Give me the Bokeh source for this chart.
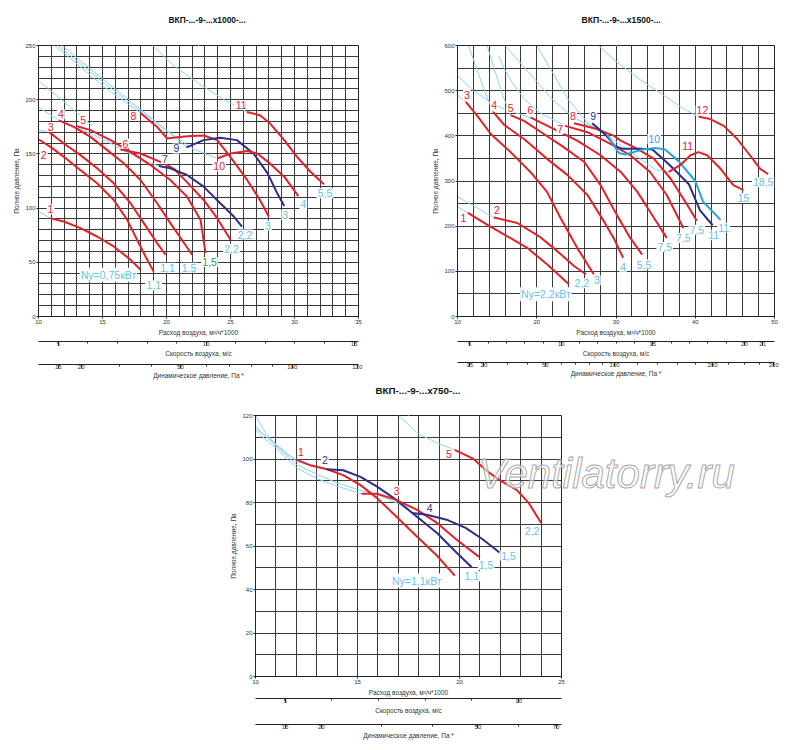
import math
from bokeh.plotting import figure
from bokeh.models import (Range1d, LinearAxis, FixedTicker, SingleIntervalTicker,
                          ColumnDataSource, Spacer, Div, Title)
from bokeh.layouts import column, row
from bokeh.core.properties import value
from bokeh.embed import file_html
from bokeh.resources import INLINE

RED = "#e0232b"; NAVY = "#2c2f86"; LBLUE = "#92d2ee"; CYAN = "#27a6de"
GREEN = "#1f9e3c"; KWC = "#69c0e8"; GRID = "#3a3a3a"
FONT = "Liberation Sans"
NFONT = "Liberation Sans Narrow, Liberation Sans, sans-serif"

# ---------------- chart A : x1000 ----------------
A_Q = [
    [10.94, 11.98, 13.28, 14.58, 15.88, 17.19, 17.97],
    [10.02, 10.94, 11.98, 13.28, 14.58, 15.88, 16.93, 17.7, 18.36, 19.0],
    [10.8, 11.98, 13.28, 14.58, 15.88, 17.19, 18.23, 19.27, 19.92],
    [11.59, 12.76, 14.06, 15.37, 16.66, 17.97, 19.27, 20.3, 21.2, 22.0],
    [13.02, 14.06, 15.63, 17.19, 18.75, 20.3, 21.6, 22.66, 23.05],
    [16.4, 17.97, 19.8, 20.6, 21.6, 22.9, 23.96, 25.0],
    [19.4, 20.3, 21.6, 22.9, 24.2, 25.26, 25.9],
    [17.97, 19.27, 20.05, 21.0, 21.9, 22.9, 23.96, 25.0, 26.3, 27.3, 28.0],
    [21.56, 22.9, 24.2, 25.5, 26.8, 27.9, 28.65, 29.2],
    [23.96, 25.0, 26.3, 27.1, 28.1, 29.2, 30.3],
    [26.3, 27.3, 28.1, 29.2, 30.2, 31.25, 32.3],
]
A_P = [
    [90.7, 87.6, 81.5, 73.8, 64.6, 52.4, 43.2],
    [163.3, 156.5, 147.3, 135, 122.9, 107.5, 89.1, 70.8, 55.4, 41.6],
    [170.3, 159.6, 148.9, 136.7, 122.9, 104.5, 86.1, 67.7, 57],
    [181, 174.9, 165.7, 153.5, 141.3, 125.9, 104.5, 86.1, 70.8, 57],
    [175.5, 171.9, 162.7, 151.9, 139.7, 125.9, 110.6, 89.1, 58.5],
    [154, 150.4, 141.3, 136, 124, 107.5, 90.7, 70.8],
    [138.8, 136.7, 130.5, 119.8, 104.5, 92.2, 83],
    [187.8, 174.9, 164.2, 165.5, 166.6, 167, 162.7, 147, 126, 107.5, 92],
    [156, 162.7, 165, 162.7, 150.4, 132, 113.7, 102],
    [145.8, 150.4, 152.6, 150.4, 141, 129, 111],
    [188.7, 185.6, 178, 162.7, 147.3, 133.5, 122],
]
A_ID = ["1", "2", "3", "4", "5", "6", "7", "8", "9", "10", "11"]
A_KW = ["Ny=0,75кВт", "1,1", "1,1", "1,5", "1,5", "2,2", "2,2", "3", "3", "4", "5,5"]
A_SYS_Q = [
    [10, 10.94], [10, 10.8],
    [10, 11.59, 13.0, 14.6, 16.4, 18.0, 19.4],
    [10, 11.4, 12.6, 13.5, 14.2],
    [11.15, 13, 15, 17, 17.97],
    [11.4, 13.5, 15.5, 17.5, 19.7, 21.0, 21.56],
    [11.7, 14, 16, 18, 20, 22, 23.96],
    [18.83, 20.5, 22.5, 24.5, 26.3],
]
A_SYS_P = [
    [97, 90.7], [172, 170.3],
    [193, 181, 174, 166, 155, 145, 138.8],
    [217.5, 204, 192, 183, 176],
    [251, 233, 213, 196, 187.8],
    [251, 231, 212, 194, 174, 162, 156],
    [251, 229, 210, 191, 172, 155, 145.8],
    [251, 232, 215, 200, 188.7],
]
A_VEL_MAJ = [5, 10, 15]
A_VEL_MIN = [6, 7, 8, 9, 11, 12, 13, 14]
A_PD_AT = [15, 20, 50, 100, 137]
A_PD_LAB = ["15", "20", "50", "100", "120"]
A_PD_MIN = [30, 40, 60, 70, 80, 90]

# ---------------- chart B : x1500 ----------------
B_Q = [
    [11.26, 13.78, 16.3, 18.8, 21.3, 24.06],
    [14.6, 17.55, 20.3, 22.6, 24.7, 26.2],
    [11.05, 12.5, 14.2, 16.7, 19.2, 21.3, 23, 25.1, 27.2],
    [14.5, 15.9, 18.4, 21.3, 23.9, 26.4, 28.5, 29.7, 30.9],
    [16.7, 18.4, 20.9, 23.4, 26, 28.05, 30.1, 31.8, 33.3],
    [19.2, 22.2, 25.1, 28.05, 30.6, 32.7, 34.8, 36.4],
    [23.6, 26.4, 29.3, 31.8, 34.3, 36.4, 38.5],
    [24.7, 27.6, 29.7, 30.6, 32.7, 34.8, 36.9, 39, 40.2],
    [27.0, 28.7, 29.9, 30.8, 33.3, 34.6, 36.7, 39.2, 40.6, 42.2],
    [28.9, 30.35, 31.2, 33.3, 35, 36.2, 37.9, 40, 41, 43.2],
    [36.65, 38.1, 39.4, 40.4, 41.5, 43.2, 44.8, 46.1],
    [40.4, 41.9, 43.6, 45.3, 46.9, 48.2, 49.2],
]
B_P = [
    [230, 203, 177.6, 152, 115.5, 71.6],
    [219, 207, 177.6, 144.7, 111.8, 93.5],
    [475, 444, 404, 364, 320, 276, 218, 152, 93.5],
    [453, 424, 393, 349, 313, 269, 210, 174, 130],
    [446, 433, 404, 375, 342, 291, 225, 174, 137],
    [440.7, 415, 389.5, 357, 320, 276, 218, 174],
    [422, 408, 382, 357, 320, 269, 196],
    [428, 415, 400.5, 389.5, 371, 349, 305, 247, 212],
    [427.7, 402, 376.7, 371.6, 371.6, 369.5, 336.6, 292.8, 235, 202],
    [402, 362, 358.5, 369.5, 373, 369.5, 344, 300, 254, 214],
    [320, 335, 357, 364, 357, 327, 291, 280],
    [443, 437, 422, 393, 357, 327, 315],
]
B_ID = ["1", "2", "3", "4", "5", "6", "7", "8", "9", "10", "11", "12"]
B_KW = ["Ny=2,2кВт", "2,2", "3", "4", "5,5", "7,5", "7,5", "7,5", "11", "11", "15", "18,5"]
B_SYS_Q = [
    [10, 11.26], [10, 12, 14.6], [10, 11.05],
    [10, 12, 14, 16, 19.2],
    [11.4, 12.5, 13.5, 14.5],
    [13.75, 14.7, 15.7, 16.7],
    [15.2, 16, 17, 18.5, 20.5, 23.6],
    [16.05, 18, 20, 22, 24.7, 27, 29, 31, 33, 35, 36.65],
    [20.05, 22, 24, 26.5, 28.9],
    [27.8, 30, 33, 36, 38.5, 40.4],
]
B_SYS_P = [
    [243, 230], [265, 245, 219], [490, 475],
    [533, 500, 476, 458, 440.7],
    [599, 545, 495, 453],
    [599, 545, 490, 446],
    [577, 545, 515, 480, 450, 422],
    [599, 560, 520, 480, 440, 420, 400, 375, 350, 325, 320],
    [599, 540, 480, 427.7, 402],
    [599, 565, 525, 490, 460, 443],
]
B_VEL_MAJ = [5, 10, 15, 20, 21]
B_VEL_MIN = [6, 7, 8, 9, 11, 12, 13, 14, 16, 17, 18, 19]
B_PD_AT = [15, 20, 50, 100, 200, 280]
B_PD_LAB = ["15", "20", "50", "100", "200", "280"]
B_PD_MIN = [30, 40, 60, 70, 80, 90, 120, 140, 160, 180, 220, 240, 260]

# ---------------- chart C : x750 ----------------
C_Q = [
    [11.98, 12.7, 13.5, 14.3, 15.15, 15.96, 16.9, 17.9, 18.9, 19.77],
    [13.5, 14.3, 15.15, 15.96, 16.9, 17.9, 18.9, 19.85, 20.6],
    [15.2, 15.96, 16.9, 17.9, 18.9, 19.85, 20.96],
    [17.66, 18.4, 19.37, 20.3, 21.15, 21.96],
    [19.77, 20.66, 21.3, 21.96, 22.8, 23.4, 24.0],
]
C_P = [
    [99.8, 97.1, 95.3, 92.6, 88, 82, 73.6, 64.5, 55.5, 46.4],
    [95.3, 94.8, 91.8, 87.3, 81.2, 73.6, 66, 57, 50.2],
    [84, 84, 81.2, 76.7, 70.6, 63, 55],
    [75.2, 74.4, 72.1, 68.3, 63, 57],
    [104.2, 100.2, 94.8, 90.3, 85.8, 79.7, 70.6],
]
C_ID = ["1", "2", "3", "4", "5"]
C_KW = ["Ny=1,1кВт", "1,1", "1,5", "1,5", "2,2"]
C_SYS_Q = [
    [10, 10.5, 11, 11.5, 11.98],
    [10, 11, 12, 12.8, 13.5],
    [10, 11, 12, 13, 14, 15.2],
    [10, 11, 12, 13, 14, 15, 16, 17, 17.66],
    [17, 18, 19, 19.77],
]
C_SYS_P = [
    [120, 112, 106.5, 102.5, 99.8],
    [114, 107, 99, 96.5, 95.3],
    [113, 105, 96, 91, 87.5, 84],
    [115, 106, 97.5, 93, 89, 86, 83.5, 79.5, 75.2],
    [120, 111.5, 107, 104.2],
]
C_VEL_MAJ = [5, 10]
C_VEL_MIN = [6, 7, 8, 9]
C_PD_AT = [15, 20, 50, 70]
C_PD_LAB = ["15", "20", "50", "70"]
C_PD_MIN = [30, 40, 60]

WATERMARK = "Ventilatorry.ru"

# ---------------- styles (colours, label offsets in px) ----------------
A_COL = [RED] * 6 + [NAVY, RED, NAVY, RED, RED]
A_KWCOL = [KWC] * 4 + [GREEN] + [KWC] * 6
A_ID_OFF = [(0, 9), (5, -16), (2, 5), (2, 6), (6, 6), (5, 6), (6, 7), (-7, -3), (-10, -1), (2, -8), (-6, 7)]
A_KW_OFF = [(-32, -5), (0, -14), (2, -13), (-3, -13), (4, -9), (1, -9), (3, -8), (-1, -9), (1, -9), (5, -8), (1, -9)]

B_COL = [RED] * 8 + [NAVY, CYAN, RED, RED]
B_KWCOL = [KWC] * 12
B_ID_OFF = [(-4, -5), (3, 8), (1, 7), (1, 7), (0, 7), (0, 7), (-5, -3), (-1, 7), (1, 7), (47, -4), (19, 26), (4, 6)]
B_KW_OFF = [(-23, -10), (-4, -9), (3, -6), (0, -9), (2, -10), (-2, -9), (0, -10), (0, -9), (1, -10), (3, -8), (0, -8), (-5, -8)]

C_COL = [RED, NAVY, RED, NAVY, RED]
C_KWCOL = [KWC] * 5
C_ID_OFF = [(5, 7), (-2, 9), (35, 3), (18, 5), (-6, -4)]
C_KW_OFF = [(-38, -5), (0, -9), (7, -8), (9, -3), (-9, -8)]


def spacer_axis(h, mid):
    # an invisible axis panel (white tick on white border) used only to add space
    return LinearAxis(ticker=FixedTicker(ticks=[mid]), axis_line_color=None,
                      major_tick_out=h, major_tick_in=0, minor_tick_out=0,
                      major_tick_line_color="white", minor_tick_line_color=None,
                      major_label_overrides={mid: ""},
                      major_label_text_font_size="0px", major_label_standoff=0)


def style_axis(ax):
    ax.major_label_text_font_size = "6px"
    ax.major_label_text_font = FONT
    ax.major_label_text_color = "#333333"
    ax.axis_label_text_font_size = "6.5px"
    ax.axis_label_text_font = FONT
    ax.axis_label_text_font_style = "normal"
    ax.axis_label_text_color = "#333333"
    ax.axis_line_color = "#222222"
    ax.major_tick_line_color = "#222222"
    ax.minor_tick_line_color = "#222222"


def make_chart(title, tsize, toff, tgap, xr, yr, xint, xminor, yint, yminor,
               width, height, bl, br, bt, bb, gap1, gap2,
               qs, ps, cols, ids, id_off, kws, kwcols, kw_off, sq, sp,
               K, vmaj, vmin, pd_at, pd_lab, pd_min):
    p = figure(width=width, height=height, x_range=Range1d(*xr), y_range=Range1d(*yr),
               output_backend="svg", toolbar_location=None,
               min_border_left=bl, min_border_right=br, min_border_top=bt, min_border_bottom=bb)
    p.outline_line_color = "#222222"
    p.background_fill_color = "white"
    p.border_fill_color = "white"
    mid = (xr[0] + xr[1]) / 2.0

    # main axes (configured before any extra axis is added)
    xax = p.below[0]
    yax = p.left[0]
    xt = SingleIntervalTicker(interval=xint, num_minor_ticks=xminor)
    yt = SingleIntervalTicker(interval=yint, num_minor_ticks=yminor)
    xax.ticker = xt
    yax.ticker = yt
    p.xgrid[0].ticker = xt
    p.ygrid[0].ticker = yt
    for g in (p.xgrid[0], p.ygrid[0]):
        g.grid_line_color = GRID
        g.grid_line_width = 1
        g.minor_grid_line_color = GRID
        g.minor_grid_line_width = 1
    for ax in (xax, yax):
        style_axis(ax)
        ax.major_tick_out = 2
        ax.major_tick_in = 0
        ax.minor_tick_out = 0
        ax.minor_tick_in = 0
        ax.major_label_standoff = 1
        ax.axis_label_standoff = 2
    xax.axis_label = "Расход воздуха, м³/ч*1000"
    yax.axis_label = "Полное давление, Па"

    # title, lifted above the frame by an invisible spacer panel
    p.title.text = ""
    p.title.standoff = 0
    p.add_layout(spacer_axis(tgap, mid), "above")
    p.add_layout(Title(text=title, align="left", offset=toff, standoff=0,
                       text_font=FONT, text_font_size=tsize, text_font_style="bold",
                       text_color="#111111"), "above")

    # secondary axes: air velocity (linear in flow) and dynamic pressure (0.6*v^2)
    p.extra_x_ranges = {"vel": Range1d(xr[0] / K, xr[1] / K)}
    vax = LinearAxis(x_range_name="vel", ticker=FixedTicker(ticks=vmaj, minor_ticks=vmin),
                     axis_label="Скорость воздуха, м/с")
    style_axis(vax)
    vax.major_tick_out = 4; vax.major_tick_in = 0
    vax.minor_tick_out = 2; vax.minor_tick_in = 0
    vax.major_label_standoff = -4
    vax.major_label_text_align = "left"
    vax.axis_label_standoff = 1
    pd_v = [round(math.sqrt(v / 0.6), 6) for v in pd_at]
    pd_vmin = [round(math.sqrt(v / 0.6), 6) for v in pd_min]
    dax = LinearAxis(x_range_name="vel", ticker=FixedTicker(ticks=pd_v, minor_ticks=pd_vmin),
                     axis_label="Динамическое давление, Па *",
                     major_label_overrides={t: l for t, l in zip(pd_v, pd_lab)})
    style_axis(dax)
    dax.major_tick_out = 4; dax.major_tick_in = 0
    dax.minor_tick_out = 2; dax.minor_tick_in = 0
    dax.major_label_standoff = -4
    dax.axis_label_standoff = 0
    if gap1 > 0:
        p.add_layout(spacer_axis(gap1, mid), "below")
    p.add_layout(vax, "below")
    if gap2 > 0:
        p.add_layout(spacer_axis(gap2, mid), "below")
    p.add_layout(dax, "below")

    # light blue lines
    p.multi_line(xs=sq, ys=sp, line_color=LBLUE, line_width=1)
    # fan curves
    for q, pr, c in zip(qs, ps, cols):
        p.line(q, pr, line_color=c, line_width=2)

    # labels
    lx = [q[0] for q in qs] + [q[-1] for q in qs]
    ly = [pr[0] for pr in ps] + [pr[-1] for pr in ps]
    lt = list(ids) + list(kws)
    lc = list(cols[:len(ids)]) + list(kwcols)
    offs = list(id_off) + list(kw_off)
    src = ColumnDataSource(dict(x=lx, y=ly, text=lt, color=lc,
                                dx=[o[0] for o in offs], dy=[-o[1] for o in offs]))
    p.text(x="x", y="y", text="text", source=src, text_color="color",
           x_offset="dx", y_offset="dy", text_align="center", text_baseline="middle",
           text_font=value(NFONT), text_font_size=value("10.5px"),
           background_fill_color="white", padding=1)
    return p


p1 = make_chart("ВКП-...-9-...x1000-...", "8.4px", 130, 21, (10, 35), (0, 250), 5, 5, 50, 5,
                427, 381, 38, 69, 45, 64, 3, 5,
                A_Q, A_P, A_COL, A_ID, A_ID_OFF, A_KW, A_KWCOL, A_KW_OFF, A_SYS_Q, A_SYS_P,
                2.31, A_VEL_MAJ, A_VEL_MIN, A_PD_AT, A_PD_LAB, A_PD_MIN)
p2 = make_chart("ВКП-...-9-...x1500-...", "8.6px", 124, 21, (10, 50), (0, 600), 10, 5, 100, 2,
                362, 381, 30, 15, 45, 62, 3, 3,
                B_Q, B_P, B_COL, B_ID, B_ID_OFF, B_KW, B_KWCOL, B_KW_OFF, B_SYS_Q, B_SYS_P,
                2.31, B_VEL_MAJ, B_VEL_MIN, B_PD_AT, B_PD_LAB, B_PD_MIN)
p3 = make_chart("ВКП-...-9-...x750-...", "9.8px", 120, 20, (10, 25), (0, 120), 5, 5, 20, 2,
                516, 360, 30, 180, 34, 62, 0, 8,
                C_Q, C_P, C_COL, C_ID, C_ID_OFF, C_KW, C_KWCOL, C_KW_OFF, C_SYS_Q, C_SYS_P,
                2.29, C_VEL_MAJ, C_VEL_MIN, C_PD_AT, C_PD_LAB, C_PD_MIN)

wm = Div(text=('<span style="font: italic 42px \'Liberation Sans\', sans-serif; '
               'color: rgba(255,255,255,0.55); -webkit-text-stroke: 1px #a9a9a9; '
               'white-space: nowrap;">' + WATERMARK + '</span>'),
         width=262, height=50, margin=(69, 0, 0, -263),
         styles={"position": "relative", "z-index": "10"})

layout = column(row(p1, p2), row(Spacer(width=225, height=360), p3, wm))
open("out.html", "w").write(file_html(layout, INLINE))
